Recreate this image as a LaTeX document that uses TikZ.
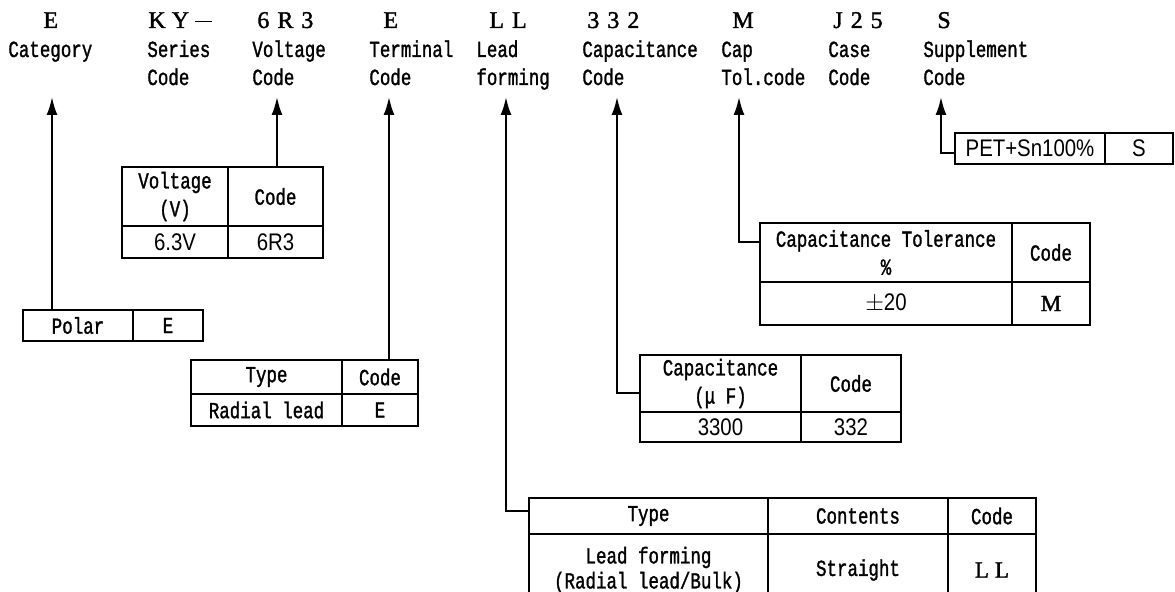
\documentclass[tikz,border=0pt]{standalone}
\usepackage{fontspec}
\setmainfont{Liberation Serif}[FakeBold=1.2]
\newfontfamily\topf[FakeBold=1.5]{Liberation Serif}
\newfontfamily\monof[FakeStretch=0.76,FakeBold=1.3]{Liberation Mono}
\newfontfamily\narf[FakeStretch=0.85]{Liberation Sans}
\usetikzlibrary{arrows.meta,calc}
\begin{document}
\begin{tikzpicture}[x=0.5pt,y=-0.5pt,
  lbl/.style={anchor=base west, inner sep=0, font=\monof\fontsize{11.5}{14}\selectfont},
  codetop/.style={anchor=base west, inner sep=0, font=\topf\fontsize{12}{14}\selectfont},
  cell/.style={draw, line width=1pt, inner sep=0, align=center, font=\monof\fontsize{11.5}{14}\selectfont},
  numf/.style={font=\narf\fontsize{12}{14}\selectfont},
  serf/.style={font=\topf\fontsize{11.5}{14}\selectfont},
  conn/.style={line width=1pt, -{Latex[length=9pt,width=5.5pt]}},
]
\useasboundingbox (0,0) rectangle (1175,592);
\clip (0,0) rectangle (1175,592);

% ---- top codes ----
\node[codetop] (c1) at (43,28) {E};
\node[codetop] (c2) at (148,28) {K\hspace{3pt}Y\hspace{3pt}\rule[2.8pt]{8.5pt}{0.7pt}};
\node[codetop] (c3) at (257,28) {6\hspace{4pt}R\hspace{4pt}3};
\node[codetop] (c4) at (383,28) {E};
\node[codetop] (c5) at (489,28) {L\hspace{4pt}L};
\node[codetop] (c6) at (587,28) {3\hspace{4pt}3\hspace{4pt}2};
\node[codetop] (c7) at (732,28) {M};
\node[codetop] (c8) at (833,28) {J\hspace{4pt}2\hspace{4pt}5};
\node[codetop] (c9) at (937,28) {S};

% ---- labels ----
\node[lbl] (l1a) at (8,57) {Category};
\node[lbl] (l2a) at (147,57) {Series};
\node[lbl] (l2b) at (147,85) {Code};
\node[lbl] (l3a) at (252,57) {Voltage};
\node[lbl] (l3b) at (252,85) {Code};
\node[lbl] (l4a) at (369,57) {Terminal};
\node[lbl] (l4b) at (369,85) {Code};
\node[lbl] (l5a) at (476,57) {Lead};
\node[lbl] (l5b) at (476,85) {forming};
\node[lbl] (l6a) at (582,57) {Capacitance};
\node[lbl] (l6b) at (582,85) {Code};
\node[lbl] (l7a) at (721,57) {Cap};
\node[lbl] (l7b) at (721,85) {Tol.code};
\node[lbl] (l8a) at (828,57) {Case};
\node[lbl] (l8b) at (828,85) {Code};
\node[lbl] (l9a) at (923,57) {Supplement};
\node[lbl] (l9b) at (923,85) {Code};

% ---- arrow tips ----
\coordinate (ta) at (52,97);
\coordinate (tb) at (277,97);
\coordinate (tc) at (389,97);
\coordinate (td) at (506,97);
\coordinate (te) at (617,97);
\coordinate (tf) at (739,97);
\coordinate (tg) at (941,97);

% ---- Polar table ----
\node[cell, minimum width=55pt, minimum height=15.5pt] (p1) at (78,325.5) {Polar};
\node[cell, minimum width=35pt, minimum height=15.5pt] (p2) at (168,325.5) {E};

% ---- Voltage table ----
\node[cell, minimum width=53pt, minimum height=29.5pt] (vh1) at (175,196.5) {Voltage\\(V)};
\node[cell, minimum width=47.5pt, minimum height=29.5pt] (vh2) at (275.5,196.5) {Code};
\node[cell, numf, minimum width=53pt, minimum height=16pt] (vr1) at (175,242) {6.3V};
\node[cell, numf, minimum width=47.5pt, minimum height=16pt] (vr2) at (275.5,242) {6R3};

% ---- Terminal table ----
\node[cell, minimum width=75.5pt, minimum height=17pt] (th1) at (266.5,377) {Type};
\node[cell, minimum width=38pt, minimum height=17pt] (th2) at (380,377) {Code};
\node[cell, minimum width=75.5pt, minimum height=16pt] (tr1) at (266.5,410) {Radial lead};
\node[cell, minimum width=38pt, minimum height=16pt] (tr2) at (380,410) {E};

% ---- Tolerance table ----
\node[cell, minimum width=126pt, minimum height=29.5pt] (oh1) at (886,252.5) {Capacitance Tolerance\\\%};
\node[cell, minimum width=39pt, minimum height=29.5pt] (oh2) at (1051,252.5) {Code};
\node[cell, numf, minimum width=126pt, minimum height=21.5pt] (or1) at (886,303.5) {$\pm$20};
\node[cell, serf, minimum width=39pt, minimum height=21.5pt] (or2) at (1051,303.5) {M};

% ---- Capacitance table ----
\node[cell, minimum width=80.5pt, minimum height=28.5pt] (ch1) at (720.5,383.5) {Capacitance\\(μ F)};
\node[cell, minimum width=50pt, minimum height=28.5pt] (ch2) at (851,383.5) {Code};
\node[cell, numf, minimum width=80.5pt, minimum height=15pt] (cr1) at (720.5,427) {3300};
\node[cell, numf, minimum width=50pt, minimum height=15pt] (cr2) at (851,427) {332};

% ---- Lead forming table ----
\node[cell, minimum width=119.5pt, minimum height=18pt] (lh1) at (648.5,516) {Type};
\node[cell, minimum width=90pt, minimum height=18pt] (lh2) at (858,516) {Contents};
\node[cell, minimum width=44pt, minimum height=18pt] (lh3) at (992,516) {Code};
\node[cell, minimum width=119.5pt, minimum height=36pt, font=\monof\fontsize{11.5}{12.5}\selectfont] (lr1) at (648.5,570) {Lead forming\\(Radial lead/Bulk)};
\node[cell, minimum width=90pt, minimum height=36pt] (lr2) at (858,570) {Straight};
\node[cell, serf, minimum width=44pt, minimum height=36pt] (lr3) at (992,570) {L\hspace{3pt}L};

% ---- Supplement table ----
\node[cell, numf, minimum width=75pt, minimum height=15.5pt] (s1) at (1030,148.5) {PET+Sn100\%};
\node[cell, numf, minimum width=34pt, minimum height=15.5pt] (s2) at (1139,148.5) {S};

% ---- connectors ----
\draw[conn] (p1.north -| ta) -- (ta);
\draw[conn] (vh2.north -| tb) -- (tb);
\draw[conn] (th2.north -| tc) -- (tc);
\draw[conn] ($(lh1.north west)!0.36!(lh1.south west)$) -| (td);
\draw[conn] ($(ch1.north west)!0.66!(ch1.south west)$) -| (te);
\draw[conn] ($(oh1.north west)!0.32!(oh1.south west)$) -| (tf);
\draw[conn] ($(s1.north west)!0.65!(s1.south west)$) -| (tg);
\end{tikzpicture}
\end{document}
